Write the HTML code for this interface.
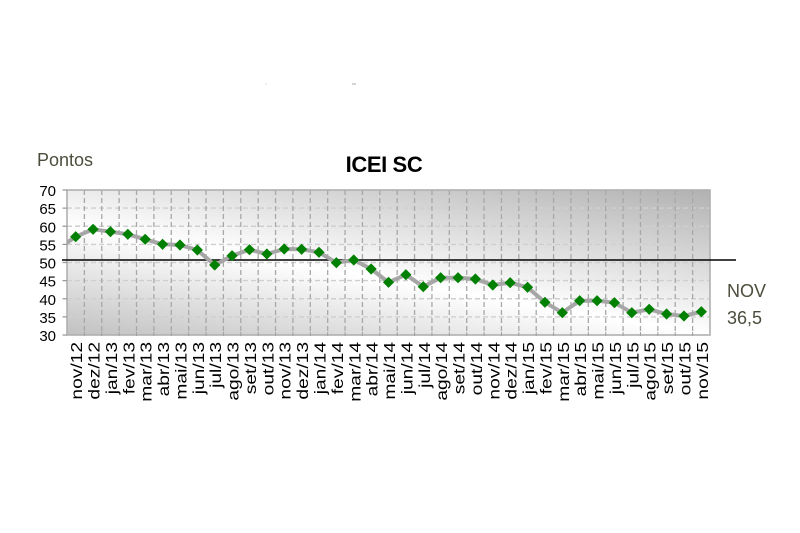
<!DOCTYPE html>
<html><head><meta charset="utf-8"><style>
html,body{margin:0;padding:0;background:#fff;}
svg{display:block;}
</style></head><body>
<svg width="800" height="533" viewBox="0 0 800 533" xmlns="http://www.w3.org/2000/svg">
<defs>
<linearGradient id="bg" gradientUnits="userSpaceOnUse" x1="412.5" y1="137" x2="369.4" y2="388.5">
<stop offset="0" stop-color="#b0b0b0"/>
<stop offset="0.569" stop-color="#ffffff"/>
<stop offset="1" stop-color="#c0c0c0"/>
</linearGradient>
<clipPath id="pc"><rect x="67" y="190" width="643" height="145"/></clipPath>
<path id="dm" d="M0,-5.6L5.6,0L0,5.6L-5.6,0Z" fill="#008000"/>
</defs>
<rect width="800" height="533" fill="#fff"/>
<rect x="265.5" y="83.5" width="1" height="1" fill="#bbb"/>
<rect x="352" y="83.5" width="4" height="1" fill="#aaa"/>

<text x="37" y="166" font-family="Liberation Sans, sans-serif" font-size="18" fill="#4d4d3d">Pontos</text>
<text x="384" y="172" text-anchor="middle" font-family="Liberation Sans, sans-serif" font-size="22" font-weight="bold" fill="#000" letter-spacing="-0.4">ICEI SC</text>

<rect x="67" y="190" width="643" height="145" fill="url(#bg)"/>
<path d="M67 208.1H710M67 226.25H710M67 244.4H710M67 262.5H710M67 280.6H710M67 298.75H710M67 316.9H710" stroke="#cfcfcf" stroke-width="1.4" stroke-dasharray="5,3" fill="none"/>
<path d="M84.38 190V335M101.76 190V335M119.13 190V335M136.51 190V335M153.89 190V335M171.27 190V335M188.65 190V335M206.02 190V335M223.4 190V335M240.78 190V335M258.16 190V335M275.54 190V335M292.91 190V335M310.29 190V335M327.67 190V335M345.05 190V335M362.43 190V335M379.8 190V335M397.18 190V335M414.56 190V335M431.94 190V335M449.32 190V335M466.69 190V335M484.07 190V335M501.45 190V335M518.83 190V335M536.21 190V335M553.58 190V335M570.96 190V335M588.34 190V335M605.72 190V335M623.1 190V335M640.47 190V335M657.85 190V335M675.23 190V335M692.61 190V335" stroke="#a8a8a8" stroke-width="1.3" stroke-dasharray="5,3" fill="none"/>
<rect x="67" y="190" width="643" height="145" fill="none" stroke="#b0b0b0" stroke-width="1.6"/>
<path d="M62.5 190H67M62.5 208.1H67M62.5 226.25H67M62.5 244.4H67M62.5 262.5H67M62.5 280.6H67M62.5 298.75H67M62.5 316.9H67M62.5 335H67" stroke="#999" stroke-width="1.2"/>
<path d="M84.38 332V336M101.76 332V336M119.13 332V336M136.51 332V336M153.89 332V336M171.27 332V336M188.65 332V336M206.02 332V336M223.4 332V336M240.78 332V336M258.16 332V336M275.54 332V336M292.91 332V336M310.29 332V336M327.67 332V336M345.05 332V336M362.43 332V336M379.8 332V336M397.18 332V336M414.56 332V336M431.94 332V336M449.32 332V336M466.69 332V336M484.07 332V336M501.45 332V336M518.83 332V336M536.21 332V336M553.58 332V336M570.96 332V336M588.34 332V336M605.72 332V336M623.1 332V336M640.47 332V336M657.85 332V336M675.23 332V336M692.61 332V336" stroke="#a0a0a0" stroke-width="1"/>

<line x1="62" y1="260" x2="736" y2="260" stroke="#000" stroke-width="1.6"/>

<polyline clip-path="url(#pc)" fill="none" stroke="#a6a6a6" stroke-width="4" stroke-linejoin="round" points="58.31,248.5 75.69,236.7 93.07,229.3 110.45,231.7 127.83,234.3 145.2,239.3 162.58,244.3 179.96,245 197.34,250 214.72,265 232.1,255.7 249.48,249.7 266.86,254 284.23,249 301.61,249.3 318.99,252.3 336.37,262.7 353.75,260 371.13,269 388.51,282.3 405.89,274.7 423.27,286.7 440.65,277.7 458.03,277.7 475.4,279 492.78,285 510.16,282.7 527.54,287.3 544.92,302.3 562.3,312.7 579.68,300.7 597.06,300.7 614.44,302.7 631.81,312.7 649.19,309.3 666.57,314 683.95,316 701.33,311.7"/>

<use href="#dm" x="75.69" y="236.7"/><use href="#dm" x="93.07" y="229.3"/><use href="#dm" x="110.45" y="231.7"/><use href="#dm" x="127.83" y="234.3"/><use href="#dm" x="145.2" y="239.3"/><use href="#dm" x="162.58" y="244.3"/><use href="#dm" x="179.96" y="245"/><use href="#dm" x="197.34" y="250"/><use href="#dm" x="214.72" y="265"/><use href="#dm" x="232.1" y="255.7"/><use href="#dm" x="249.48" y="249.7"/><use href="#dm" x="266.86" y="254"/><use href="#dm" x="284.23" y="249"/><use href="#dm" x="301.61" y="249.3"/><use href="#dm" x="318.99" y="252.3"/><use href="#dm" x="336.37" y="262.7"/><use href="#dm" x="353.75" y="260"/><use href="#dm" x="371.13" y="269"/><use href="#dm" x="388.51" y="282.3"/><use href="#dm" x="405.89" y="274.7"/><use href="#dm" x="423.27" y="286.7"/><use href="#dm" x="440.65" y="277.7"/><use href="#dm" x="458.03" y="277.7"/><use href="#dm" x="475.4" y="279"/><use href="#dm" x="492.78" y="285"/><use href="#dm" x="510.16" y="282.7"/><use href="#dm" x="527.54" y="287.3"/><use href="#dm" x="544.92" y="302.3"/><use href="#dm" x="562.3" y="312.7"/><use href="#dm" x="579.68" y="300.7"/><use href="#dm" x="597.06" y="300.7"/><use href="#dm" x="614.44" y="302.7"/><use href="#dm" x="631.81" y="312.7"/><use href="#dm" x="649.19" y="309.3"/><use href="#dm" x="666.57" y="314"/><use href="#dm" x="683.95" y="316"/><use href="#dm" x="701.33" y="311.7"/>

<g font-family="Liberation Sans, sans-serif" font-size="15" fill="#000" text-anchor="end">
<text x="56" y="196">70</text>
<text x="56" y="214.1">65</text>
<text x="56" y="232.3">60</text>
<text x="56" y="250.4">55</text>
<text x="56" y="268.5">50</text>
<text x="56" y="286.6">45</text>
<text x="56" y="304.8">40</text>
<text x="56" y="322.9">35</text>
<text x="56" y="341">30</text>
</g>

<g font-family="Liberation Sans, sans-serif" font-size="16" fill="#000" text-anchor="end">
<text transform="translate(82.19,342) rotate(-90) scale(1.2,1)">nov/12</text>
<text transform="translate(99.57,342) rotate(-90) scale(1.2,1)">dez/12</text>
<text transform="translate(116.95,342) rotate(-90) scale(1.2,1)">jan/13</text>
<text transform="translate(134.33,342) rotate(-90) scale(1.2,1)">fev/13</text>
<text transform="translate(151.7,342) rotate(-90) scale(1.2,1)">mar/13</text>
<text transform="translate(169.08,342) rotate(-90) scale(1.2,1)">abr/13</text>
<text transform="translate(186.46,342) rotate(-90) scale(1.2,1)">mai/13</text>
<text transform="translate(203.84,342) rotate(-90) scale(1.2,1)">jun/13</text>
<text transform="translate(221.22,342) rotate(-90) scale(1.2,1)">jul/13</text>
<text transform="translate(238.6,342) rotate(-90) scale(1.2,1)">ago/13</text>
<text transform="translate(255.98,342) rotate(-90) scale(1.2,1)">set/13</text>
<text transform="translate(273.36,342) rotate(-90) scale(1.2,1)">out/13</text>
<text transform="translate(290.73,342) rotate(-90) scale(1.2,1)">nov/13</text>
<text transform="translate(308.11,342) rotate(-90) scale(1.2,1)">dez/13</text>
<text transform="translate(325.49,342) rotate(-90) scale(1.2,1)">jan/14</text>
<text transform="translate(342.87,342) rotate(-90) scale(1.2,1)">fev/14</text>
<text transform="translate(360.25,342) rotate(-90) scale(1.2,1)">mar/14</text>
<text transform="translate(377.63,342) rotate(-90) scale(1.2,1)">abr/14</text>
<text transform="translate(395.01,342) rotate(-90) scale(1.2,1)">mai/14</text>
<text transform="translate(412.39,342) rotate(-90) scale(1.2,1)">jun/14</text>
<text transform="translate(429.77,342) rotate(-90) scale(1.2,1)">jul/14</text>
<text transform="translate(447.15,342) rotate(-90) scale(1.2,1)">ago/14</text>
<text transform="translate(464.53,342) rotate(-90) scale(1.2,1)">set/14</text>
<text transform="translate(481.9,342) rotate(-90) scale(1.2,1)">out/14</text>
<text transform="translate(499.28,342) rotate(-90) scale(1.2,1)">nov/14</text>
<text transform="translate(516.66,342) rotate(-90) scale(1.2,1)">dez/14</text>
<text transform="translate(534.04,342) rotate(-90) scale(1.2,1)">jan/15</text>
<text transform="translate(551.42,342) rotate(-90) scale(1.2,1)">fev/15</text>
<text transform="translate(568.8,342) rotate(-90) scale(1.2,1)">mar/15</text>
<text transform="translate(586.18,342) rotate(-90) scale(1.2,1)">abr/15</text>
<text transform="translate(603.56,342) rotate(-90) scale(1.2,1)">mai/15</text>
<text transform="translate(620.94,342) rotate(-90) scale(1.2,1)">jun/15</text>
<text transform="translate(638.31,342) rotate(-90) scale(1.2,1)">jul/15</text>
<text transform="translate(655.69,342) rotate(-90) scale(1.2,1)">ago/15</text>
<text transform="translate(673.07,342) rotate(-90) scale(1.2,1)">set/15</text>
<text transform="translate(690.45,342) rotate(-90) scale(1.2,1)">out/15</text>
<text transform="translate(707.83,342) rotate(-90) scale(1.2,1)">nov/15</text>
</g>

<g font-family="Liberation Sans, sans-serif" font-size="18" fill="#4d4d3d">
<text x="727" y="297">NOV</text>
<text x="727" y="324">36,5</text>
</g>
</svg>
</body></html>
